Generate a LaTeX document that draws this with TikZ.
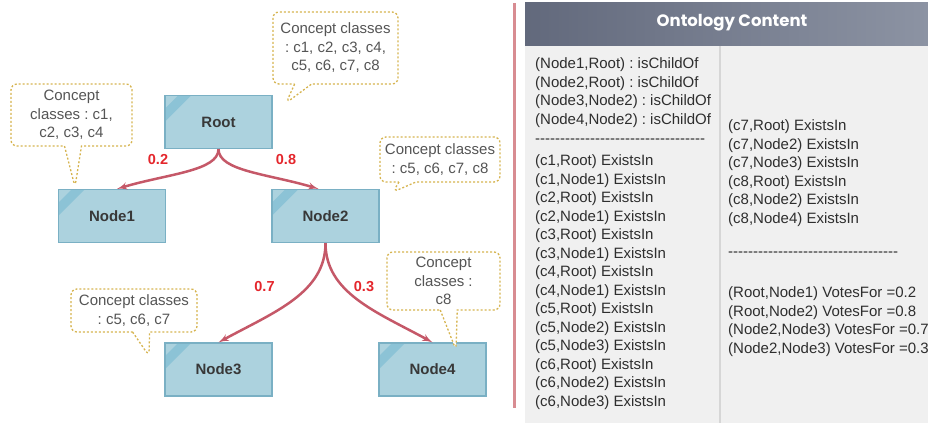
\documentclass[tikz,border=0pt]{standalone}
\usepackage{fontspec}
\newfontfamily\arialfont{Liberation Sans}
\newfontfamily\headfont{Poppins}
\usetikzlibrary{arrows,shapes.callouts}
\frenchspacing

\definecolor{boxfill}{RGB}{172,210,222}
\definecolor{boxline}{RGB}{122,176,196}
\definecolor{boxstripe}{RGB}{140,195,214}
\definecolor{edgered}{RGB}{197,88,104}
\definecolor{votered}{RGB}{228,38,44}
\definecolor{notegold}{RGB}{214,180,80}
\definecolor{notetext}{RGB}{85,85,85}
\definecolor{headleft}{RGB}{98,105,124}
\definecolor{headright}{RGB}{140,147,163}
\definecolor{colfill}{RGB}{240,240,240}
\definecolor{sepline}{RGB}{216,140,146}

\begin{document}
\begin{tikzpicture}[x=1pt,y=-1pt]
\tikzset{
  treenode/.style = {draw=boxline, line width=1.2pt, fill=boxfill,
    minimum width=107pt, minimum height=53pt, inner sep=0pt,
    font=\arialfont\fontsize{15}{18}\selectfont\bfseries, text=black!78,
    path picture={\fill[boxstripe]
      ([xshift=13pt]path picture bounding box.north west) --
      ([xshift=26pt]path picture bounding box.north west) --
      ([yshift=-26pt]path picture bounding box.north west) --
      ([yshift=-13pt]path picture bounding box.north west) -- cycle;}},
  edge/.style = {->,>=latex', draw=edgered, line width=2.5pt},
  vote/.style = {text=votered, font=\arialfont\fontsize{14.5}{17}\selectfont\bfseries},
  note/.style = {rectangle callout, draw=notegold, fill=white, line width=1.3pt,
    dash pattern=on 2pt off 2pt, rounded corners=6pt, callout pointer width=17pt,
    inner sep=0pt, align=center, text=notetext,
    font=\arialfont\fontsize{15}{18.5}\selectfont},
  onto/.style = {inner sep=0pt, align=left, text=black!82,
    font=\arialfont\fontsize{15}{18.5}\selectfont}
}
\useasboundingbox (0,0) rectangle (928,423);

% tree
\node[treenode] (root) at (218.5,122) {Root};
\node[treenode] (n1) at (112,216) {Node1};
\node[treenode] (n2) at (325.5,216) {Node2};
\node[treenode] (n3) at (218.5,369.5) {Node3};
\node[treenode] (n4) at (432.5,369.5) {Node4};

\draw[edge] (root.south) .. controls +(0,22) and +(50,-15) .. ([xshift=5pt]n1.north);
\draw[edge] (root.south) .. controls +(0,22) and +(-50,-15) .. ([xshift=-7pt]n2.north);
\draw[edge] (n2.south) .. controls +(0,50) and +(55,-30) .. (n3.north);
\draw[edge] (n2.south) .. controls +(0,50) and +(-55,-30) .. (n4.north);

\node[vote] (w1) at (158,160) {0.2};
\node[vote] (w2) at (286,160) {0.8};
\node[vote] (w3) at (264.5,287) {0.7};
\node[vote] (w4) at (364,287) {0.3};

% notes
\node[note, minimum width=125pt, minimum height=72pt, callout absolute pointer={(286,103)}]
  (rootnote) at (335.5,48) {Concept classes\\: c1, c2, c3, c4,\\c5, c6, c7, c8};
\node[note, minimum width=121pt, minimum height=62pt, callout absolute pointer={(75,187)}]
  (n1note) at (71.5,115) {Concept\\classes : c1,\\c2, c3, c4};
\node[note, minimum width=120pt, minimum height=45pt, callout absolute pointer={(393,192)}]
  (n2note) at (440,159.5) {Concept classes\\: c5, c6, c7, c8};
\node[note, minimum width=126pt, minimum height=43pt, callout absolute pointer={(149,356)}]
  (n3note) at (134,310.5) {Concept classes\\: c5, c6, c7};
\node[note, minimum width=113pt, minimum height=58pt, callout absolute pointer={(456,350)}]
  (n4note) at (443.5,281) {Concept\\classes :\\c8};

% ontology panel
\draw[sepline, line width=3pt] (514,3) -- (514,408);
\fill[colfill] (525,45) rectangle (928,423);
\draw[black!16, line width=2pt] (720,45) -- (720,423);
\shade[left color=headleft, right color=headright] (525,2) rectangle (928,45);
\node[text=white, font=\headfont\fontsize{16.5}{20}\selectfont\bfseries] (title) at (732,23) {Ontology Content};

\node[onto, anchor=north west] (childof) at (535,57.5)
  {(Node1,Root) : isChildOf\\(Node2,Root) : isChildOf\\(Node3,Node2) : isChildOf\\(Node4,Node2) : isChildOf};
\node[onto, anchor=west] (rule1) at (535,141) {----------------------------------};
\node[onto, anchor=north west] (existsin) at (535,154.5)
  {(c1,Root) ExistsIn\\(c1,Node1) ExistsIn\\(c2,Root) ExistsIn\\(c2,Node1) ExistsIn\\
   (c3,Root) ExistsIn\\(c3,Node1) ExistsIn\\(c4,Root) ExistsIn\\(c4,Node1) ExistsIn\\
   (c5,Root) ExistsIn\\(c5,Node2) ExistsIn\\(c5,Node3) ExistsIn\\(c6,Root) ExistsIn\\
   (c6,Node2) ExistsIn\\(c6,Node3) ExistsIn};
\node[onto, anchor=north west] (existsmore) at (728,119.5)
  {(c7,Root) ExistsIn\\(c7,Node2) ExistsIn\\(c7,Node3) ExistsIn\\(c8,Root) ExistsIn\\
   (c8,Node2) ExistsIn\\(c8,Node4) ExistsIn};
\node[onto, anchor=west] (rule2) at (728,254) {----------------------------------};
\node[onto, anchor=north west] (votes) at (728,286.5)
  {(Root,Node1) VotesFor =0.2\\(Root,Node2) VotesFor =0.8\\(Node2,Node3) VotesFor =0.7\\(Node2,Node3) VotesFor =0.3};
\end{tikzpicture}
\end{document}
